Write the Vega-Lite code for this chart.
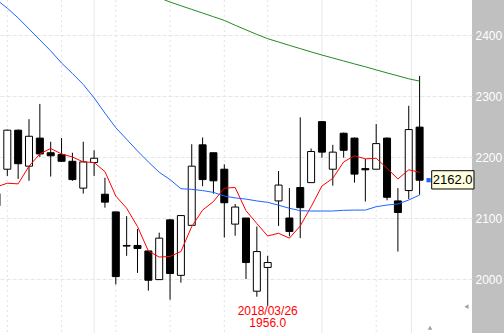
{
  "$schema": "https://vega.github.io/schema/vega-lite/v6.json",
  "width": 472,
  "height": 333,
  "autosize": {"type": "none"},
  "padding": {"left": 0, "top": 0, "right": 32, "bottom": 0},
  "background": "#c0c0c0",
  "config": {
    "view": {"stroke": null, "fill": "white"},
    "axisY": {
      "domain": false, "ticks": false, "labelColor": "white",
      "labelFont": "Liberation Sans", "labelFontSize": 12, "labelPadding": 3,
      "gridColor": "#e6e6e6", "gridDash": [4, 2], "gridWidth": 1
    }
  },
  "datasets": {
    "candles": [
      {"k": 0, "open": 2140, "high": 2141, "low": 2119, "close": 2120, "ma5": 2151, "ma25": 2458, "ma75": null},
      {"k": 1, "open": 2180, "high": 2245, "low": 2169, "close": 2244, "ma5": 2157, "ma25": 2444, "ma75": null},
      {"k": 2, "open": 2244, "high": 2245, "low": 2164, "close": 2189, "ma5": 2156, "ma25": 2428, "ma75": null},
      {"k": 3, "open": 2185, "high": 2262, "low": 2161, "close": 2234, "ma5": 2185, "ma25": 2410, "ma75": null},
      {"k": 4, "open": 2231, "high": 2287, "low": 2200, "close": 2205, "ma5": 2205, "ma25": 2392, "ma75": null},
      {"k": 5, "open": 2207, "high": 2225, "low": 2168, "close": 2202, "ma5": 2214, "ma25": 2374, "ma75": null},
      {"k": 6, "open": 2204, "high": 2231, "low": 2192, "close": 2193, "ma5": 2205, "ma25": 2354, "ma75": null},
      {"k": 7, "open": 2193, "high": 2207, "low": 2161, "close": 2163, "ma5": 2200, "ma25": 2337, "ma75": null},
      {"k": 8, "open": 2149, "high": 2225, "low": 2140, "close": 2192, "ma5": 2192, "ma25": 2319, "ma75": null},
      {"k": 9, "open": 2191, "high": 2211, "low": 2169, "close": 2198, "ma5": 2191, "ma25": 2297, "ma75": null},
      {"k": 10, "open": 2139, "high": 2166, "low": 2117, "close": 2126, "ma5": 2176, "ma25": 2272, "ma75": null},
      {"k": 11, "open": 2110, "high": 2110, "low": 1991, "close": 2004, "ma5": 2136, "ma25": 2248, "ma75": null},
      {"k": 12, "open": 2055, "high": 2103, "low": 2038, "close": 2054, "ma5": 2116, "ma25": 2229, "ma75": null},
      {"k": 13, "open": 2055, "high": 2082, "low": 2010, "close": 2050, "ma5": 2086, "ma25": 2210, "ma75": null},
      {"k": 14, "open": 2046, "high": 2046, "low": 1981, "close": 1998, "ma5": 2046, "ma25": 2192, "ma75": null},
      {"k": 15, "open": 1999, "high": 2076, "low": 1999, "close": 2067, "ma5": 2036, "ma25": 2175, "ma75": 2461},
      {"k": 16, "open": 2097, "high": 2098, "low": 1966, "close": 2009, "ma5": 2037, "ma25": 2163, "ma75": 2454},
      {"k": 17, "open": 2006, "high": 2105, "low": 1994, "close": 2104, "ma5": 2045, "ma25": 2148, "ma75": 2448},
      {"k": 18, "open": 2088, "high": 2221, "low": 2088, "close": 2185, "ma5": 2086, "ma25": 2147, "ma75": 2442},
      {"k": 19, "open": 2220, "high": 2232, "low": 2152, "close": 2163, "ma5": 2113, "ma25": 2145, "ma75": 2436},
      {"k": 20, "open": 2207, "high": 2207, "low": 2140, "close": 2161, "ma5": 2127, "ma25": 2142, "ma75": 2430},
      {"k": 21, "open": 2180, "high": 2188, "low": 2068, "close": 2125, "ma5": 2149, "ma25": 2136, "ma75": 2424},
      {"k": 22, "open": 2090, "high": 2123, "low": 2071, "close": 2118, "ma5": 2150, "ma25": 2133, "ma75": 2416},
      {"k": 23, "open": 2100, "high": 2100, "low": 2000, "close": 2027, "ma5": 2112, "ma25": 2131, "ma75": 2408.5},
      {"k": 24, "open": 1980, "high": 2086, "low": 1971, "close": 2045, "ma5": 2091, "ma25": 2128, "ma75": 2401},
      {"k": 25, "open": 2019, "high": 2038, "low": 1956, "close": 2027, "ma5": 2070.5, "ma25": 2125.7, "ma75": 2394},
      {"k": 26, "open": 2128, "high": 2177, "low": 2087, "close": 2154, "ma5": 2075, "ma25": 2121, "ma75": 2388.5},
      {"k": 27, "open": 2100, "high": 2149, "low": 2070, "close": 2078, "ma5": 2067, "ma25": 2116, "ma75": 2383},
      {"k": 28, "open": 2150, "high": 2265, "low": 2067, "close": 2117, "ma5": 2087, "ma25": 2112, "ma75": 2377.7},
      {"k": 29, "open": 2158, "high": 2214, "low": 2158, "close": 2209, "ma5": 2118.5, "ma25": 2111.5, "ma75": 2372.3},
      {"k": 30, "open": 2258, "high": 2259, "low": 2199, "close": 2208, "ma5": 2152.5, "ma25": 2111.5, "ma75": 2367.2},
      {"k": 31, "open": 2180, "high": 2220, "low": 2153, "close": 2208, "ma5": 2165, "ma25": 2111.5, "ma75": 2362.3},
      {"k": 32, "open": 2239, "high": 2240, "low": 2199, "close": 2211, "ma5": 2192, "ma25": 2112.6, "ma75": 2357.5},
      {"k": 33, "open": 2231, "high": 2232, "low": 2158, "close": 2172, "ma5": 2202, "ma25": 2113, "ma75": 2352.6},
      {"k": 34, "open": 2181, "high": 2197, "low": 2127, "close": 2179, "ma5": 2197, "ma25": 2113, "ma75": 2347.9},
      {"k": 35, "open": 2180, "high": 2254, "low": 2180, "close": 2222, "ma5": 2198, "ma25": 2118.5, "ma75": 2342.8},
      {"k": 36, "open": 2231, "high": 2232, "low": 2129, "close": 2134, "ma5": 2181.5, "ma25": 2121.3, "ma75": 2337.9},
      {"k": 37, "open": 2128, "high": 2149, "low": 2045, "close": 2109, "ma5": 2164, "ma25": 2123, "ma75": 2333.1},
      {"k": 38, "open": 2145, "high": 2284, "low": 2131, "close": 2245, "ma5": 2179, "ma25": 2129.5, "ma75": 2328.2},
      {"k": 39, "open": 2249, "high": 2333, "low": 2138, "close": 2162, "ma5": 2175, "ma25": 2137.7, "ma75": 2324.4}
    ],
    "vgrid": [
      {"k": 1, "kind": "week"}, {"k": 6, "kind": "week"}, {"k": 9, "kind": "month"},
      {"k": 11, "kind": "week"}, {"k": 16, "kind": "week"}, {"k": 21, "kind": "week"},
      {"k": 25, "kind": "week"}, {"k": 30, "kind": "month"}, {"k": 35, "kind": "week"},
      {"k": 38.25, "kind": "month"}
    ],
    "annot": [{"k": 25, "date": "2018/03/26", "low": 1956.0}],
    "last": [{"k": 39, "close": 2162.0}]
  },
  "layer": [
    {
      "data": {"name": "vgrid"},
      "transform": [{"filter": "datum.kind == 'week'"}],
      "mark": {"type": "rule", "color": "#e2e2e2", "strokeDash": [2, 3], "strokeWidth": 1},
      "encoding": {
        "x": {"field": "k", "type": "quantitative", "scale": {"domain": [0.327, 43.83], "nice": false, "zero": false, "padding": 0}, "axis": null}
      }
    },
    {
      "data": {"name": "vgrid"},
      "transform": [{"filter": "datum.kind == 'month'"}],
      "mark": {"type": "rule", "color": "#e8e8e8", "strokeWidth": 1},
      "encoding": {
        "x": {"field": "k", "type": "quantitative", "axis": null}
      }
    },
    {
      "data": {"name": "candles"},
      "mark": {"type": "rule", "color": "black", "strokeWidth": 1, "clip": true},
      "encoding": {
        "x": {"field": "k", "type": "quantitative", "axis": null},
        "y": {"field": "low", "type": "quantitative", "title": null,
              "scale": {"domain": [1911.5, 2457.4], "nice": false, "zero": false, "padding": 0},
              "axis": {"values": [2000, 2100, 2200, 2300, 2400], "format": "d", "orient": "right", "grid": true}},
        "y2": {"field": "high"}
      }
    },
    {
      "data": {"name": "candles"},
      "mark": {"type": "bar", "size": 7, "stroke": "black", "strokeWidth": 1, "clip": true},
      "encoding": {
        "x": {"field": "k", "type": "quantitative", "axis": null},
        "y": {"field": "open", "type": "quantitative", "title": null},
        "y2": {"field": "close"},
        "fill": {"condition": {"test": "datum.close >= datum.open", "value": "white"}, "value": "black"}
      }
    },
    {
      "data": {"name": "candles"},
      "mark": {"type": "line", "color": "#ff0000", "strokeWidth": 1, "clip": true},
      "encoding": {
        "x": {"field": "k", "type": "quantitative", "axis": null},
        "y": {"field": "ma5", "type": "quantitative", "title": null}
      }
    },
    {
      "data": {"name": "candles"},
      "mark": {"type": "line", "color": "#1e64ff", "strokeWidth": 1, "clip": true},
      "encoding": {
        "x": {"field": "k", "type": "quantitative", "axis": null},
        "y": {"field": "ma25", "type": "quantitative", "title": null}
      }
    },
    {
      "data": {"name": "candles"},
      "transform": [{"filter": "datum.ma75 != null"}],
      "mark": {"type": "line", "color": "#228b22", "strokeWidth": 1, "clip": true},
      "encoding": {
        "x": {"field": "k", "type": "quantitative", "axis": null},
        "y": {"field": "ma75", "type": "quantitative", "title": null}
      }
    },
    {
      "data": {"name": "annot"},
      "mark": {"type": "text", "color": "#ff0000", "font": "Liberation Sans", "fontSize": 12, "baseline": "middle", "align": "center", "dy": 5},
      "encoding": {
        "x": {"field": "k", "type": "quantitative", "axis": null},
        "y": {"field": "low", "type": "quantitative", "title": null},
        "text": {"field": "date"}
      }
    },
    {
      "data": {"name": "annot"},
      "mark": {"type": "text", "color": "#ff0000", "font": "Liberation Sans", "fontSize": 12, "baseline": "middle", "align": "center", "dy": 17.5},
      "encoding": {
        "x": {"field": "k", "type": "quantitative", "axis": null},
        "y": {"field": "low", "type": "quantitative", "title": null},
        "text": {"field": "low", "format": ".1f"}
      }
    },
    {
      "data": {"name": "last"},
      "mark": {"type": "rect", "fill": "#ffffe0", "stroke": "black", "strokeWidth": 1, "xOffset": 12.1, "x2Offset": 54.4, "yOffset": -9.5, "y2Offset": 8.8},
      "encoding": {
        "x": {"field": "k", "type": "quantitative", "axis": null},
        "x2": {"field": "k"},
        "y": {"field": "close", "type": "quantitative", "title": null},
        "y2": {"field": "close"}
      }
    },
    {
      "data": {"name": "last"},
      "mark": {"type": "text", "color": "black", "font": "Liberation Sans", "fontSize": 13, "baseline": "middle", "align": "center", "dx": 33},
      "encoding": {
        "x": {"field": "k", "type": "quantitative", "axis": null},
        "y": {"field": "close", "type": "quantitative", "title": null},
        "text": {"field": "close", "format": ".1f"}
      }
    },
    {
      "data": {"name": "last"},
      "mark": {"type": "point", "shape": "square", "filled": true, "color": "#1e64ff", "size": 18, "xOffset": 9, "opacity": 1},
      "encoding": {
        "x": {"field": "k", "type": "quantitative", "axis": null},
        "y": {"field": "close", "type": "quantitative", "title": null}
      }
    },
    {
      "data": {"values": [{}]},
      "mark": {"type": "point", "shape": "triangle-up", "filled": true, "color": "#a0a0a0", "size": 22, "opacity": 1},
      "encoding": {
        "x": {"datum": 39.96, "type": "quantitative", "axis": null},
        "y": {"datum": 1920, "type": "quantitative", "title": null}
      }
    },
    {
      "data": {"values": [{}]},
      "mark": {"type": "point", "shape": "triangle-left", "filled": true, "color": "#a0a0a0", "size": 22, "opacity": 1},
      "encoding": {
        "x": {"datum": 43.32, "type": "quantitative", "axis": null},
        "y": {"datum": 1954.6, "type": "quantitative", "title": null}
      }
    }
  ]
}
